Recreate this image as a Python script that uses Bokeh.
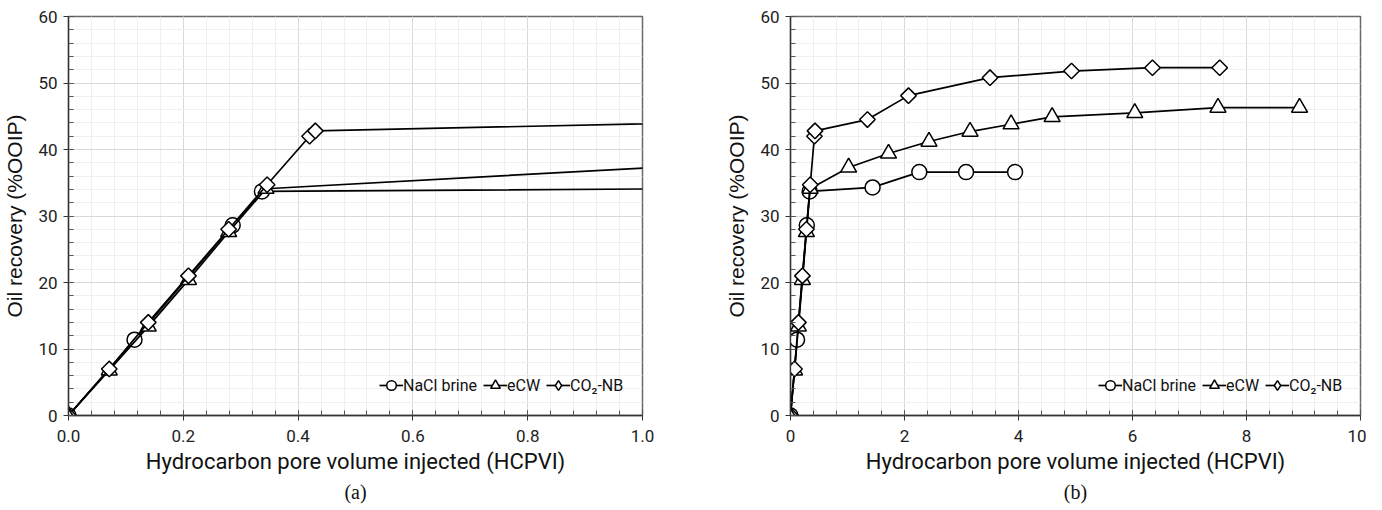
import math
from bokeh.plotting import figure
from bokeh.layouts import row
from bokeh.models import (Range1d, FixedTicker, PrintfTickFormatter, Title, Legend,
                          CDSView, IndexFilter)
from bokeh.embed import file_html
from bokeh.resources import INLINE

# ---- data ----
nacl_x = [0, 0.115, 0.286, 0.337, 1.44, 2.26, 3.08, 3.94]
nacl_y = [0, 11.4, 28.6, 33.7, 34.3, 36.6, 36.6, 36.6]

ecw_x = [0, 0.071, 0.139, 0.209, 0.279, 0.344, 1.02, 1.72, 2.43, 3.15, 3.87, 4.59, 6.04, 7.50, 8.93]
ecw_y = [0, 6.8, 13.4, 20.4, 27.6, 34.1, 37.3, 39.4, 41.2, 42.7, 43.8, 44.9, 45.5, 46.3, 46.3]

co2_x = [0, 0.071, 0.139, 0.209, 0.279, 0.346, 0.420, 0.430, 1.35, 2.07, 3.50, 4.93, 6.35, 7.53]
co2_y = [0, 7.0, 14.0, 21.0, 28.0, 34.7, 42.0, 42.8, 44.5, 48.1, 50.8, 51.8, 52.3, 52.3]

series_names = ["NaCl brine", "eCW", "CO\u2082-NB"]

y_ticks = [0, 10, 20, 30, 40, 50, 60]
y_minor = [v for v in range(0, 61, 2)]
xa_ticks = [0.0, 0.2, 0.4, 0.6, 0.8, 1.0]
xa_minor = [round(i * 0.04, 2) for i in range(0, 26)]
xb_ticks = [0, 2, 4, 6, 8, 10]
xb_minor = [round(i * 0.4, 1) for i in range(0, 26)]

x_label = "Hydrocarbon pore volume injected (HCPVI)"
y_label = "Oil recovery (%OOIP)"

# plot marker styles (diamond drawn as a rotated square)
MARKERS = [
    dict(marker="circle", size=15, angle=0),
    dict(marker="triangle", size=16, angle=0),
    dict(marker="square", size=11, angle=math.pi / 4),
]

FIG_H = 505


def make_panel(xr, xticks, xminor, fmt, tag, width, left_border, right_border, leg_x):
    p = figure(width=width, height=FIG_H, output_backend="svg", toolbar_location=None,
               x_range=Range1d(*xr), y_range=Range1d(0, 60),
               min_border_left=left_border, min_border_right=right_border,
               min_border_top=16, min_border_bottom=0)
    p.outline_line_color = "#6a6a6a"
    p.outline_line_width = 1.5
    p.background_fill_color = "white"
    p.border_fill_color = "white"

    p.xaxis.ticker = FixedTicker(ticks=xticks, minor_ticks=xminor)
    p.yaxis.ticker = FixedTicker(ticks=y_ticks, minor_ticks=y_minor)
    p.xaxis.formatter = PrintfTickFormatter(format=fmt)

    for ax in (p.xaxis[0], p.yaxis[0]):
        ax.axis_line_color = "#333333"
        ax.axis_line_width = 1.3
        ax.major_tick_line_color = "#333333"
        ax.minor_tick_line_color = "#555555"
        ax.major_tick_in = 5
        ax.major_tick_out = 5
        ax.minor_tick_in = 5
        ax.minor_tick_out = 0
        ax.major_label_text_font = "Roboto"
        ax.major_label_text_font_size = "17px"
        ax.major_label_text_color = "#222222"
        ax.axis_label_text_font_style = "normal"
        ax.axis_label_text_color = "#111111"

    p.xaxis.axis_label = x_label
    p.xaxis.axis_label_text_font = "Roboto"
    p.xaxis.axis_label_text_font_size = "22px"
    p.xaxis.major_label_standoff = 9
    p.xaxis.axis_label_standoff = 4
    p.yaxis.axis_label = y_label
    p.yaxis.axis_label_text_font = "Liberation Sans"
    p.yaxis.axis_label_text_font_size = "21px"
    p.yaxis.major_label_standoff = 6
    p.yaxis.axis_label_standoff = 9

    for g in (p.xgrid[0], p.ygrid[0]):
        g.grid_line_color = "#d9d9d9"
        g.grid_line_width = 1
        g.minor_grid_line_color = "#efefef"
        g.minor_grid_line_width = 1

    data = [(nacl_x, nacl_y), (ecw_x, ecw_y), (co2_x, co2_y)]
    items = []
    for (xs, ys), name, mk in zip(data, series_names, MARKERS):
        l = p.line(xs, ys, line_color="black", line_width=1.7)
        s = p.scatter(xs, ys, marker=mk["marker"], size=mk["size"], angle=mk["angle"],
                      fill_color="white", line_color="black", line_width=1.5)
        if mk["marker"] == "square":
            # legend marker: upright diamond, shown in the plot only at the first (origin) point
            s = p.scatter(xs, ys, marker="diamond", size=13, fill_color="white",
                          line_color="black", line_width=1.5,
                          view=CDSView(filter=IndexFilter(indices=[0])))
        items.append((name, [l, s]))

    leg = Legend(items=items, orientation="horizontal", location=(leg_x, 16))
    leg.background_fill_alpha = 0
    leg.border_line_alpha = 0
    leg.label_text_font = "Roboto"
    leg.label_text_font_size = "16px"
    leg.label_text_color = "#111111"
    leg.glyph_width = 24
    leg.glyph_height = 24
    leg.label_standoff = 0
    leg.spacing = 6
    leg.padding = 2
    leg.margin = 0
    p.add_layout(leg)

    t = Title(text=tag, align="center", text_font="Liberation Serif",
              text_font_size="20px", text_font_style="normal", text_color="#111111",
              standoff=5)
    p.add_layout(t, "below")
    return p


pa = make_panel((0, 1.0), xa_ticks, xa_minor, "%.1f", "(a)", 670, 67, 28, 309)
pb = make_panel((0, 10), xb_ticks, xb_minor, "%d", "(b)", 696, 120, 6, 306)

layout = row(pa, pb)
open("out.html", "w").write(file_html(layout, INLINE))
